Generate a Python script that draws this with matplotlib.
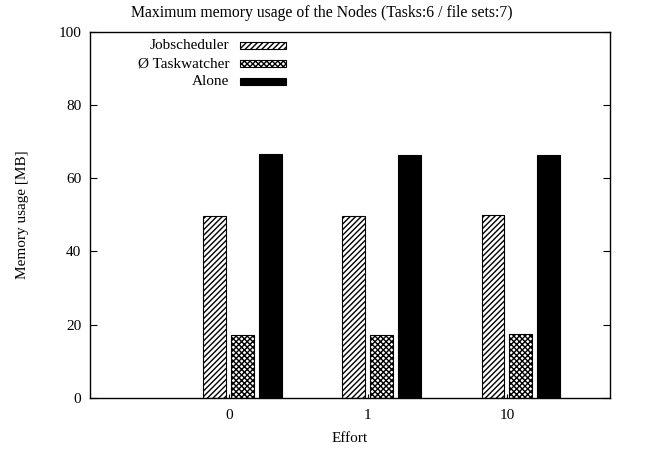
import matplotlib
matplotlib.use("Agg")
import matplotlib.pyplot as plt
from matplotlib.patches import Rectangle
import numpy as np

plt.rcParams['font.family'] = ['Liberation Serif', 'DejaVu Serif']
plt.rcParams['hatch.linewidth'] = 1.0

# data
efforts = ["0", "1", "10"]
series_names = ["Jobscheduler", "Ø Taskwatcher", "Alone"]
jobscheduler = [49.8, 49.8, 49.9]
taskwatcher = [17.2, 17.2, 17.5]
alone = [66.6, 66.4, 66.3]

hatches = ["//////", "xxxxxx", None]
faces = ["white", "white", "black"]
offsets = [-0.1, 0.1, 0.3]
BAR_W = 0.165

fig = plt.figure(figsize=(6.55, 4.61), dpi=100)
ax = fig.add_axes([0.137, 0.137, 0.794, 0.794])

x = np.arange(len(efforts))
for vals, off, h, fc in zip([jobscheduler, taskwatcher, alone], offsets, hatches, faces):
    ax.bar(x + off, vals, width=BAR_W, color=fc, edgecolor="black",
           hatch=h, linewidth=0.8)

ax.set_xlim(-1.0, 2.74)
ax.set_ylim(0, 100)
ax.set_xticks(x)
ax.set_xticklabels(efforts)
ax.set_yticks(range(0, 101, 20))

ax.tick_params(axis="y", direction="in", length=5, width=0.8, right=True,
               labelsize=11, pad=6)
ax.tick_params(axis="x", direction="in", length=3, width=0.8, top=False,
               labelsize=11, pad=8)
for s in ax.spines.values():
    s.set_linewidth(1.0)

# gnuplot centres the title on the whole canvas
fig.text(0.491, 0.971, "Maximum memory usage of the Nodes (Tasks:6 / file sets:7)",
         ha="center", va="center", fontsize=11.3)
ax.set_xlabel("Effort", fontsize=11, labelpad=7)
ax.set_ylabel("Memory usage [MB]", fontsize=11, labelpad=21)

# gnuplot style key: text right aligned, sample to the right
key_y = [0.962, 0.913, 0.864]
for name, ky, h, fc in zip(series_names, key_y, hatches, faces):
    ax.text(0.269, ky, name, transform=ax.transAxes, ha="right", va="center",
            fontsize=11)
    ax.add_patch(Rectangle((0.288, ky - 0.010), 0.09, 0.020,
                           transform=ax.transAxes, facecolor=fc,
                           edgecolor="black", hatch=h, linewidth=0.8))

fig.savefig("out.png", dpi=100)
